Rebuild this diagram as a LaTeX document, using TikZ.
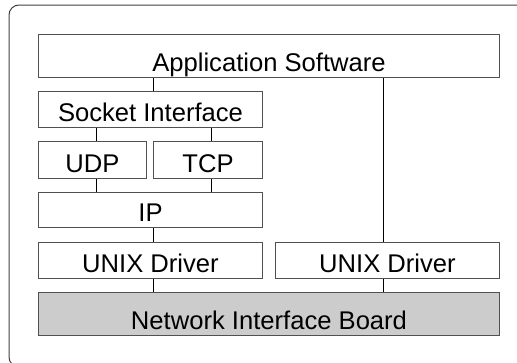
\documentclass[tikz,border=0pt]{standalone}
\usepackage{fontspec}
\setmainfont{Liberation Sans}
\definecolor{edge}{HTML}{505050}
\definecolor{frame}{HTML}{404040}
\definecolor{board}{HTML}{CCCCCC}
\tikzset{
  layer/.style={draw=edge, line width=1pt, fill=white, inner sep=0pt,
    anchor=north west, text depth=0pt,
    font=\fontsize{25.6}{30}\selectfont},
  link/.style={draw=black, line width=0.9pt},
}
\begin{document}
\begin{tikzpicture}[x=1pt,y=-1pt]
  \useasboundingbox (0,0) rectangle (517,362);
  \clip (0,0) rectangle (517,362);
  % outer frame
  \draw[frame, line width=1pt, rounded corners=10pt] (9,5) rectangle (530,367);

  % protocol layers
  \node[layer, minimum width=461pt, minimum height=43pt, text height=30pt] (app) at (38,34) {Application Software};
  \node[layer, minimum width=224pt, minimum height=36pt, text height=23pt] (sock) at (38,91) {Socket Interface};
  \node[layer, minimum width=108pt, minimum height=37pt, text height=24pt] (udp) at (38,141) {UDP};
  \node[layer, minimum width=109pt, minimum height=37pt, text height=24pt] (tcp) at (153,141) {TCP};
  \node[layer, minimum width=224pt, minimum height=35pt, text height=22pt] (ip) at (38,192) {IP};
  \node[layer, minimum width=224pt, minimum height=36pt, text height=23pt] (drvl) at (38,242) {UNIX Driver};
  \node[layer, minimum width=224pt, minimum height=36pt, text height=23pt] (drvr) at (275,242) {UNIX Driver};
  \node[layer, fill=board, minimum width=461pt, minimum height=43pt, text height=30pt] (nib) at (38,292) {Network Interface Board};

  % x positions of the connecting lines
  \coordinate (xs) at (153,0);
  \coordinate (xu) at (96,0);
  \coordinate (xt) at (211,0);
  \coordinate (xr) at (383,0);

  \draw[link] (app.south -| xs) -- (sock.north -| xs);
  \draw[link] (sock.south -| xu) -- (udp.north -| xu);
  \draw[link] (sock.south -| xt) -- (tcp.north -| xt);
  \draw[link] (udp.south -| xu) -- (ip.north -| xu);
  \draw[link] (tcp.south -| xt) -- (ip.north -| xt);
  \draw[link] (ip.south -| xs) -- (drvl.north -| xs);
  \draw[link] (drvl.south -| xs) -- (nib.north -| xs);
  \draw[link] (app.south -| xr) -- (drvr.north -| xr);
  \draw[link] (drvr.south -| xr) -- (nib.north -| xr);
\end{tikzpicture}
\end{document}
